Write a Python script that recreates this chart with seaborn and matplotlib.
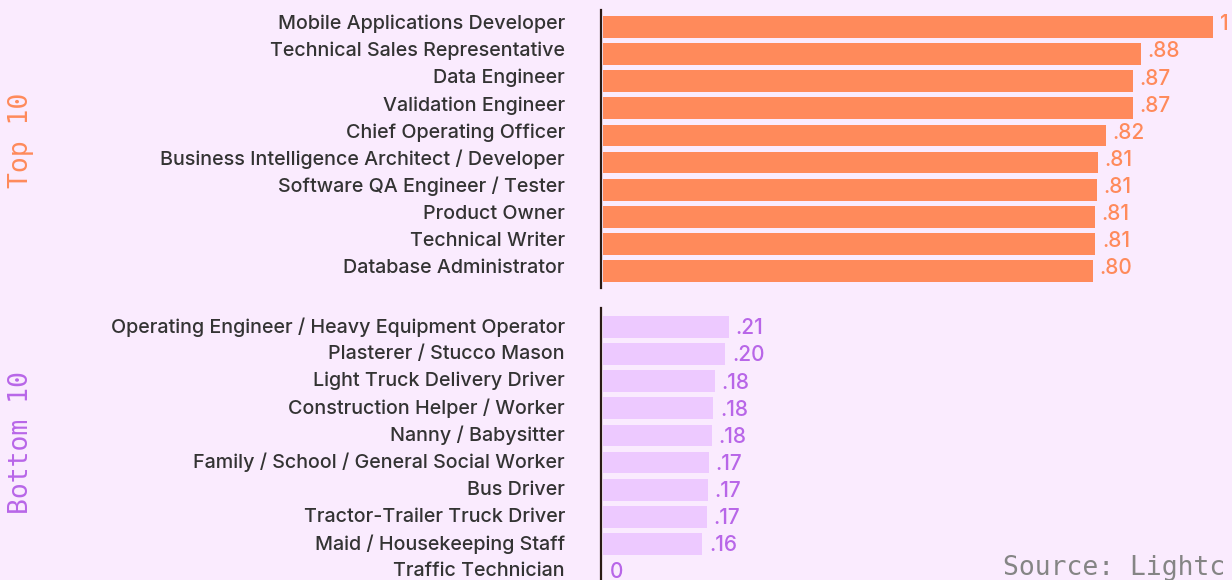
import matplotlib
matplotlib.use("Agg")
import matplotlib.pyplot as plt
import matplotlib.transforms as mtransforms
import seaborn as sns

# ---- data ----
top_jobs = ["Mobile Applications Developer", "Technical Sales Representative",
            "Data Engineer", "Validation Engineer", "Chief Operating Officer",
            "Business Intelligence Architect / Developer",
            "Software QA Engineer / Tester", "Product Owner",
            "Technical Writer", "Database Administrator"]
top_scores = [1.0, 0.882, 0.869, 0.868, 0.824, 0.811, 0.809, 0.806, 0.807, 0.803]

bottom_jobs = ["Operating Engineer / Heavy Equipment Operator",
               "Plasterer / Stucco Mason", "Light Truck Delivery Driver",
               "Construction Helper / Worker", "Nanny / Babysitter",
               "Family / School / General Social Worker", "Bus Driver",
               "Tractor-Trailer Truck Driver", "Maid / Housekeeping Staff",
               "Traffic Technician"]
bottom_scores = [0.206, 0.201, 0.184, 0.181, 0.179, 0.174, 0.172, 0.170, 0.163, 0.0]

BG = "#FAEBFE"
ORANGE = "#FF8A5B"
LILAC = "#EDC9FF"
PURPLE = "#B866E8"
LABEL_FONT = ["Inter", "DejaVu Sans"]
MONO_FONT = ["DejaVu Sans Mono"]


def fmt(v):
    if v == 1:
        return "1"
    if v == 0:
        return "0"
    return f"{v:.2f}".lstrip("0")


sns.set_theme(style="white")
plt.rcParams["font.family"] = LABEL_FONT

fig = plt.figure(figsize=(12.32, 5.80), dpi=100)
fig.patch.set_facecolor(BG)

xmax = (1232 - 601) / (1215 - 603)
ax_top = fig.add_axes([601 / 1232, 1 - 288 / 580, 631 / 1232, 278 / 580])
ax_bot = fig.add_axes([601 / 1232, 0, 631 / 1232, 272 / 580])

# (axes, names, values, bar colour, text colour, ylim, label lift px, value-label offset)
panels = [
    (ax_top, top_jobs, top_scores, ORANGE, ORANGE, (9.627, -0.627), 5, -0.1),
    (ax_bot, bottom_jobs, bottom_scores, LILAC, PURPLE, (9.33, -0.70), 2, 0.05),
]

for ax, jobs, scores, bar_col, txt_col, ylim, lift, dy in panels:
    sns.barplot(x=scores, y=jobs, ax=ax, color=bar_col, saturation=1,
                width=0.8, orient="h", linewidth=0)
    ax.set_facecolor(BG)
    ax.set_xlim(-0.003, xmax)
    ax.set_ylim(*ylim)
    for i, v in enumerate(scores):
        ax.text(v + 0.011, i + dy, fmt(v), va="center", ha="left",
                fontsize=15, fontweight=500, color=txt_col, family=LABEL_FONT)
    for s in ["top", "right", "bottom"]:
        ax.spines[s].set_visible(False)
    ax.spines["left"].set_color("#2A1A14")
    ax.spines["left"].set_linewidth(1.6)
    ax.set_xticks([])
    ax.tick_params(axis="y", length=0, pad=26, labelsize=14.2,
                   labelcolor="#333333")
    shift = mtransforms.ScaledTranslation(0, lift / 100, fig.dpi_scale_trans)
    for lab in ax.get_yticklabels():
        lab.set_fontweight(500)
        lab.set_transform(lab.get_transform() + shift)
    ax.set_xlabel("")
    ax.set_ylabel("")

fig.text(21 / 1232, 1 - 140 / 580, "Top 10", rotation=90, ha="center",
         va="center", fontsize=19, color=ORANGE, family=MONO_FONT)
fig.text(21 / 1232, 1 - 443 / 580, "Bottom 10", rotation=90, ha="center",
         va="center", fontsize=19, color=PURPLE, family=MONO_FONT)
fig.text(1003 / 1232, 1 - 568 / 580, "Source: Lightc", ha="left",
         va="center", fontsize=19, color="#858585", family=MONO_FONT)

fig.savefig("out.png", dpi=100, facecolor=BG)
